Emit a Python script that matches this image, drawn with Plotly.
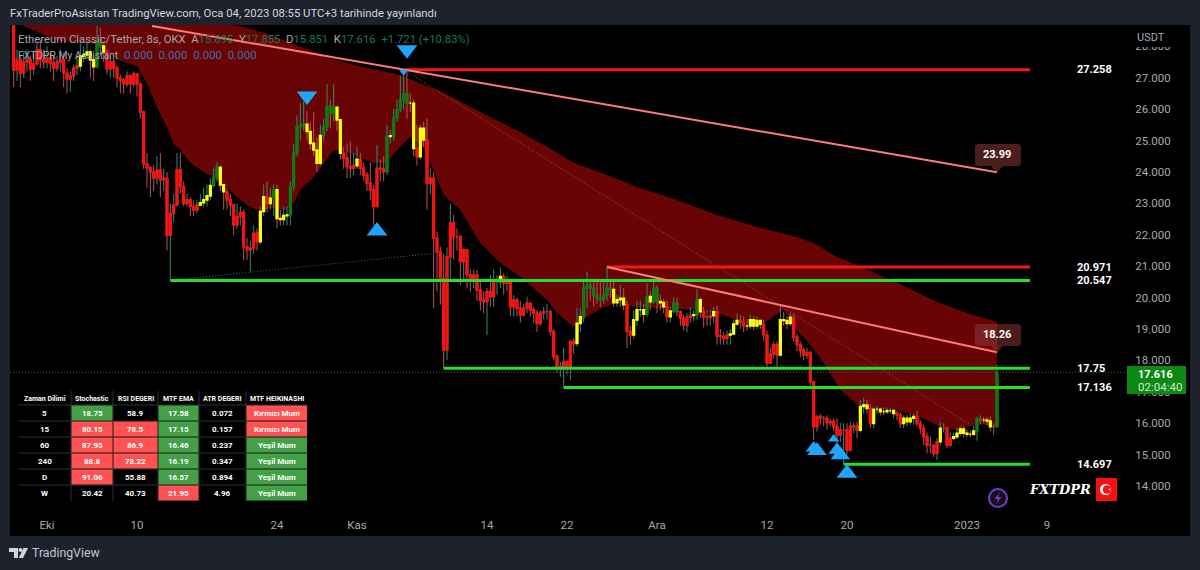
import pandas as pd
import plotly.graph_objects as go

# ---------- candles (8h bars, last bar opens 2023-01-04 00:00) ----------
first_open = 28.65
closes = [
 27.25,27.57,27.15,27.50,27.57,27.28,27.44,27.89,27.57,27.50,
 27.63,27.47,27.31,27.50,27.57,27.15,26.96,27.06,27.31,27.38,
 27.69,27.73,27.82,27.57,27.35,28.14,28.01,27.82,27.28,27.50,
 27.31,27.00,26.93,26.80,27.06,26.80,27.12,26.80,25.91,24.26,
 24.13,24.00,23.81,24.06,23.75,23.80,21.99,22.68,22.95,24.07,
 23.53,23.00,23.11,22.90,22.79,22.95,23.02,23.11,23.24,23.57,
 23.83,24.15,23.59,23.37,23.11,22.95,22.31,22.58,22.71,21.62,
 21.52,21.57,22.05,21.78,22.74,23.21,23.00,23.16,23.43,22.52,
 22.49,22.61,22.63,23.53,24.60,25.44,25.50,25.52,25.29,24.91,
 24.70,24.28,25.16,25.44,26.08,25.87,26.06,25.66,24.60,24.44,
 24.17,24.12,24.20,24.40,24.12,23.90,23.64,23.43,22.90,24.12,
 24.10,24.01,25.13,25.15,25.71,25.98,26.29,26.49,26.19,26.19,
 24.75,24.49,25.39,25.02,23.64,23.80,21.89,21.46,20.61,18.33,
 21.30,22.37,21.94,21.94,21.15,21.52,20.72,20.61,20.72,20.24,
 19.92,19.87,20.19,20.03,20.51,20.51,20.67,20.46,20.51,19.71,
 19.92,19.66,19.45,19.66,19.82,19.61,19.50,19.18,19.50,19.55,
 19.55,18.92,18.12,17.75,17.80,17.96,17.75,18.60,18.54,19.18,
 19.39,20.30,20.40,20.30,20.08,19.98,19.93,20.08,20.30,20.26,
 19.84,19.93,19.98,19.77,18.92,18.81,19.29,19.61,19.61,19.47,
 20.03,19.87,20.30,19.87,19.84,19.71,19.39,19.57,19.82,19.55,
 19.34,19.13,19.37,19.43,19.45,19.93,19.55,19.39,19.37,19.42,
 19.55,18.78,18.76,18.70,18.81,18.84,19.16,19.27,19.23,19.10,
 19.10,19.29,19.10,19.27,19.15,18.81,17.91,18.20,18.50,18.17,
 19.29,19.27,19.18,19.37,18.74,18.50,18.33,18.17,18.25,17.32,
 15.89,16.21,16.16,16.16,16.02,16.05,15.89,15.62,15.78,15.78,
 15.15,15.89,15.91,15.78,16.53,16.58,16.47,15.99,16.44,16.44,
 16.37,16.37,16.40,16.40,16.31,16.26,15.99,16.16,16.05,16.16,
 16.21,15.99,15.84,15.57,15.30,15.30,15.04,15.41,15.84,15.84,
 15.30,15.52,15.57,15.68,15.81,15.68,15.65,15.65,15.75,16.15,
 16.10,16.10,16.07,15.89,15.895,17.616,
]
highs = [
 28.80,27.90,27.70,27.80,27.90,27.70,27.80,28.10,28.20,27.90,
 28.00,27.80,27.70,27.70,27.90,27.80,27.30,27.20,27.40,27.70,
 28.10,28.00,28.10,27.90,27.70,28.65,28.60,28.10,27.90,27.70,
 27.60,27.40,27.10,27.00,27.20,27.10,27.20,27.15,26.85,25.95,
 24.60,24.20,24.20,24.50,24.60,24.10,24.00,23.00,23.30,24.60,
 24.60,23.70,23.30,23.20,23.10,23.10,23.30,23.50,23.60,23.80,
 24.10,24.30,24.20,23.60,23.50,23.30,23.00,23.00,22.90,22.80,
 21.90,21.80,22.30,22.20,22.90,23.60,23.70,23.50,23.60,23.60,
 22.80,22.90,22.90,23.70,24.90,25.80,26.20,26.25,25.95,25.60,
 25.90,25.10,25.50,25.70,26.80,26.30,26.80,26.00,25.70,24.80,
 24.90,24.97,24.60,24.80,24.60,24.30,24.00,24.30,23.60,24.85,
 24.40,24.50,25.50,25.35,26.00,26.30,27.05,27.258,27.20,26.50,
 26.30,25.50,25.50,25.60,25.70,24.10,24.00,22.10,21.62,21.40,
 21.60,23.00,22.63,22.20,22.00,21.57,21.55,20.90,20.90,20.87,
 20.60,20.20,20.30,20.72,20.90,20.70,20.96,20.77,20.70,20.60,
 20.08,20.00,19.90,19.80,20.03,19.85,19.70,19.60,19.60,19.70,
 19.80,19.60,19.00,18.20,17.95,18.40,18.00,18.65,18.70,19.66,
 19.66,20.60,20.83,20.60,20.60,20.50,20.50,20.50,20.971,20.60,
 20.50,20.10,20.40,20.30,19.90,19.10,19.60,19.90,19.90,19.80,
 20.46,20.20,20.50,20.40,20.10,19.95,19.90,19.70,20.00,20.00,
 19.60,19.45,19.50,19.70,19.60,20.26,20.00,19.70,19.60,19.60,
 19.70,19.75,19.00,18.90,18.95,19.00,19.30,19.50,19.45,19.40,
 19.30,19.45,19.40,19.40,19.30,19.30,18.95,18.40,18.60,18.60,
 19.77,19.55,19.40,19.50,19.50,18.85,18.60,18.40,18.40,18.30,
 17.32,16.26,16.30,16.23,16.25,16.15,16.15,16.15,16.00,16.00,
 16.00,16.05,16.00,16.05,16.74,16.80,16.74,16.60,16.50,16.55,
 16.50,16.50,16.50,16.50,16.45,16.40,16.35,16.25,16.25,16.30,
 16.30,16.40,16.10,15.95,15.70,15.57,15.30,15.52,16.05,16.00,
 15.89,15.70,15.70,15.85,15.90,15.90,15.80,15.75,15.95,16.21,
 16.25,16.20,16.20,16.20,16.00,17.855,
]
lows = [
 26.70,26.90,26.70,27.00,27.20,26.90,27.10,27.40,27.30,27.30,
 27.30,27.20,26.90,27.20,27.20,26.70,26.50,26.55,26.90,27.10,
 27.20,27.50,27.60,27.00,26.90,27.30,27.70,27.50,27.10,27.00,
 27.00,26.70,26.50,26.50,26.70,26.50,26.70,26.40,25.70,24.10,
 23.50,23.20,23.40,23.60,23.20,23.40,21.50,20.547,22.40,22.90,
 23.30,22.90,22.90,22.60,22.60,22.70,22.90,22.90,22.90,23.10,
 23.50,23.70,23.40,22.80,22.80,22.60,22.00,22.20,22.30,21.20,
 21.20,20.83,21.40,21.50,21.70,22.60,22.70,22.80,22.60,22.20,
 22.30,22.30,22.30,22.30,23.40,24.50,25.00,25.30,25.00,24.70,
 24.50,24.00,24.20,25.00,25.30,25.40,25.60,25.30,24.40,24.10,
 23.80,23.80,23.90,24.10,23.90,23.70,23.40,23.10,22.30,22.90,
 23.70,23.70,23.90,24.90,25.00,25.60,25.90,26.00,25.70,25.90,
 24.50,24.20,24.40,24.80,22.80,23.30,19.66,20.20,19.77,17.75,
 18.00,20.60,21.20,21.50,20.40,20.60,20.30,20.19,20.30,19.90,
 19.60,19.50,18.80,19.70,19.71,20.10,20.30,20.10,20.20,19.40,
 19.40,19.40,19.20,19.40,19.50,19.40,19.20,18.90,19.10,19.30,
 19.30,18.80,18.00,17.59,17.48,17.136,17.55,17.38,18.20,18.44,
 18.90,19.20,19.66,19.90,19.71,19.80,19.70,19.80,19.90,20.00,
 19.70,19.70,19.70,19.60,18.39,18.50,18.70,19.10,19.40,19.20,
 19.40,19.60,19.80,19.50,19.60,19.50,19.20,19.20,19.50,19.40,
 19.10,18.95,18.90,19.20,19.25,19.30,19.35,19.05,19.10,19.10,
 19.20,18.50,18.50,18.50,18.50,18.50,18.80,19.10,19.00,18.90,
 18.95,19.00,18.95,19.00,19.00,18.60,17.80,17.90,18.05,17.80,
 18.12,19.10,19.00,19.10,18.60,18.30,18.10,18.00,18.05,17.20,
 15.47,15.73,15.95,15.90,15.80,15.90,15.75,15.30,15.40,14.697,
 15.00,15.10,15.68,15.52,15.70,16.30,16.30,15.85,15.84,16.30,
 16.25,16.25,16.30,16.30,16.15,16.10,15.85,15.84,15.90,15.95,
 15.95,15.90,15.65,15.30,15.04,15.05,14.93,14.83,15.30,15.70,
 15.20,15.25,15.45,15.50,15.60,15.55,15.55,15.55,15.60,15.44,
 15.95,16.00,15.95,15.75,15.63,15.851,
]
candle_tags = (
 "rrrrrrrrrr" "rrrrrrrrrr" "yyyyyggyrr" "rrrrrrrrrr" "rrrrrrrrrr"
 "rrrrrryyyy" "ggyyrrrrrr" "rrrryyrygy" "yyygggggyy" "yyyggggyyr"
 "rrryrrrrrr" "rrgygggggy" "yryyrrrrrr" "rrrrrrrrrr" "rrrrrryrrr"
 "rrrrrrrrrr" "rrrrrrrrry" "yggggggggg" "yyyyrryyyy" "gyggyyrygg"
 "rrrrygyrrr" "yrrrryyyrr" "yyyyyrrrrr" "yyyyrrrrrr" "rrrrrrrrrr"
 "rrrryyyryy" "yyyyyrryyy" "yrrrrrrryr" "rryyyyyyyg" "gyyyrg"
)
assert len(closes) == len(highs) == len(lows) == len(candle_tags) == 296, (len(closes), len(highs), len(lows), len(candle_tags))

dates = [d.strftime("%Y-%m-%d %H:%M") for d in pd.date_range(end="2023-01-04 00:00", periods=len(closes), freq="8h")]
opens = [first_open] + closes[:-1]

# ---------- moving-average band ----------
band_upper_idx = [3,68,76,86,96,106,116,118,129,140,152,160,168,178,187,199,211,223,235,240,247,255,265,277,286,295]
band_upper = [29.3,28.65,28.40,27.98,27.57,27.31,27.09,26.99,26.52,25.91,25.27,24.80,24.29,23.90,23.52,23.11,22.63,22.25,21.93,21.74,21.29,20.94,20.47,19.86,19.51,19.22]
band_lower_idx = [3,7,12,14,19,24,29,32,37,40,43,46,48,50,53,57,60,64,67,70,74,77,82,84,86,90,93,96,100,104,108,112,115,119,123,126,129,134,140,146,152,160,163,168,172,177,181,187,195,205,211,217,225,231,235,239,243,248,254,265,272,278,283,289,295]
band_lower = [28.65,28.46,28.24,28.17,28.14,28.08,27.76,27.54,27.38,26.80,26.07,25.43,24.89,24.70,24.29,24.00,23.84,23.52,23.20,22.95,22.73,22.86,22.79,23.01,23.43,23.84,24.29,24.70,24.64,24.45,24.29,24.29,24.70,25.12,24.77,24.06,23.27,22.79,21.74,21.10,20.66,19.92,19.51,19.07,19.39,19.70,19.83,19.70,19.67,19.61,19.51,19.29,19.19,19.61,18.97,18.49,17.92,17.06,16.52,16.42,16.20,15.88,15.78,16.00,15.88]

# ---------- drawn levels and trend lines ----------
level_values = [27.258, 20.971, 20.547, 17.75, 17.136, 14.697]
level_labels = ["27.258", "20.971", "20.547", "17.75", "17.136", "14.697"]
level_start_idx = [117, 178, 47, 129, 165, 249]
level_colors = ["#f21818", "#f21818", "#25e025", "#25e025", "#25e025", "#25e025"]
level_end = "2023-01-07 07:00"

trend_dates = [["2022-10-11 12:00", "2023-01-04 00:00"], ["2022-11-26 00:00", "2023-01-04 00:00"]]
trend_values = [[28.65, 23.99], [20.971, 18.26]]
dotted_red_dates = ["2022-11-05 16:00", "2023-01-01 16:00"]
dotted_red_values = [27.258, 15.88]
dotted_teal_dates = ["2022-10-13 08:00", "2022-11-09 00:00"]
dotted_teal_values = [20.547, 21.42]
last_price = 17.616

# ---------- signal markers ----------
down_dates = ["2022-11-06 00:00", "2022-10-27 00:00", "2022-11-05 16:00"]
down_values = [27.89, 26.42, 27.19]
down_sizes = [18, 18, 8]
up_dates = ["2022-11-03 00:00", "2022-12-16 16:00", "2022-12-17 00:00", "2022-12-18 16:00", "2022-12-19 00:00", "2022-12-19 08:00", "2022-12-20 00:00"]
up_values = [22.12, 15.21, 15.12, 15.50, 15.15, 14.99, 14.41]
up_sizes = [18, 14, 17, 10, 15, 17, 18]

# ---------- axes ----------
x_tick_dates = ["2022-10-01", "2022-10-10", "2022-10-24", "2022-11-01", "2022-11-14", "2022-11-22", "2022-12-01", "2022-12-12", "2022-12-20", "2023-01-01", "2023-01-09"]
x_tick_text = ["Eki", "10", "24", "Kas", "14", "22", "Ara", "12", "20", "2023", "9"]
y_ticks = list(range(14, 29))

# ---------- table ----------
table_head = ["Zaman Dilimi", "Stochastic", "RSI DEGERI", "MTF EMA", "ATR DEGERI", "MTF HEIKINASHI"]
tf_col = ["5", "15", "60", "240", "D", "W"]
stoch_col = ["18.75", "80.15", "87.95", "88.8", "91.06", "20.42"]
rsi_col = ["58.9", "78.5", "86.9", "78.22", "55.88", "40.73"]
ema_col = ["17.58", "17.15", "16.46", "16.19", "16.57", "21.95"]
atr_col = ["0.072", "0.157", "0.237", "0.347", "0.894", "4.96"]
heikin_col = ["Kırmızı Mum", "Kırmızı Mum", "Yeşil Mum", "Yeşil Mum", "Yeşil Mum", "Yeşil Mum"]
K, G, R = None, "#43a047", "#ff5252"
table_fills = [[K]*6, [G, R, R, R, R, K], [K, R, R, R, K, K], [G, G, G, G, G, R], [K]*6, [R, R, G, G, G, G]]

# ---------- pixel helpers for page furniture ----------
PL, PR, PT, PB = 10, 1126, 25, 508
def fx(x): return (x - PL) / (PR - PL)
def fy(y): return (PB - y) / (PB - PT)
def rect(x0, y0, x1, y1, fill, layer="above"):
    return dict(type="rect", xref="paper", yref="paper", x0=fx(x0), x1=fx(x1), y0=fy(y1), y1=fy(y0),
                fillcolor=fill, line_width=0, layer=layer)
def poly(points, fill):
    p = "M " + " L ".join(f"{fx(a):.5f},{fy(b):.5f}" for a, b in points) + " Z"
    return dict(type="path", xref="paper", yref="paper", path=p, fillcolor=fill, layer="above", line_width=0)
def circle(cx, cy, r, fill, line=None):
    return dict(type="circle", xref="paper", yref="paper", x0=fx(cx-r), x1=fx(cx+r), y0=fy(cy+r), y1=fy(cy-r),
                fillcolor=fill, layer="above", line=dict(color=line or fill, width=2 if line else 0))
def callout(tip_x, tip_y):
    l, r, t, b, c = tip_x-22, tip_x+24, tip_y-29, tip_y-7, 3
    q = lambda a, b: f"{fx(a):.5f},{fy(b):.5f}"
    p = (f"M {q(l+c,t)} L {q(r-c,t)} Q {q(r,t)} {q(r,t+c)} L {q(r,b-c)} Q {q(r,b)} {q(r-c,b)} "
         f"L {q(tip_x+6,b)} L {q(tip_x,tip_y)} L {q(tip_x-6,b)} L {q(l+c,b)} Q {q(l,b)} {q(l,b-c)} "
         f"L {q(l,t+c)} Q {q(l,t)} {q(l+c,t)} Z")
    return dict(type="path", xref="paper", yref="paper", path=p, fillcolor="rgba(150,60,60,0.5)", line_width=0, layer="above")

fig = go.Figure()

# band on the lower axis so that candles sit on top of it
fig.add_trace(go.Scatter(x=[dates[i] for i in band_upper_idx], y=band_upper, mode="lines", line=dict(width=0, color="#690404"), hoverinfo="skip"))
fig.add_trace(go.Scatter(x=[dates[i] for i in band_lower_idx], y=band_lower, mode="lines", line=dict(width=0, color="#690404"),
                         fill="tonexty", fillcolor="#690404", hoverinfo="skip"))

# wicks
fig.add_trace(go.Candlestick(x=dates, open=opens, high=highs, low=lows, close=closes, yaxis="y2", whiskerwidth=0,
                             increasing=dict(line=dict(color="#2f8a7e", width=1), fillcolor="rgba(0,0,0,0)"),
                             decreasing=dict(line=dict(color="#b8525a", width=1), fillcolor="rgba(0,0,0,0)")))
# bodies, one trace per indicator colour
tag_colors = {"r": "#f41414", "g": "#0f7a10", "y": "#ffff14"}
for tag, col in tag_colors.items():
    ids = [i for i, t in enumerate(candle_tags) if t == tag]
    o = [opens[i] for i in ids]
    c = [closes[i] for i in ids]
    side = dict(line=dict(color=col, width=1.6), fillcolor=col)
    fig.add_trace(go.Candlestick(x=[dates[i] for i in ids], open=o, close=c,
                                 high=[max(a, b) for a, b in zip(o, c)], low=[min(a, b) for a, b in zip(o, c)],
                                 yaxis="y2", whiskerwidth=0, increasing=side, decreasing=side))

# dotted lines
fig.add_trace(go.Scatter(x=dotted_red_dates, y=dotted_red_values, mode="lines", yaxis="y2", line=dict(color="#a05a5a", width=1, dash="1px,2px")))
fig.add_trace(go.Scatter(x=dotted_teal_dates, y=dotted_teal_values, mode="lines", yaxis="y2", line=dict(color="#2a6d78", width=1, dash="1px,2px")))
fig.add_trace(go.Scatter(x=["2022-09-27 07:12", "2023-01-16 21:36"], y=[last_price, last_price], mode="lines", yaxis="y2", line=dict(color="#246b24", width=1, dash="1px,2px")))

# levels
for v, idx, col in zip(level_values, level_start_idx, level_colors):
    fig.add_trace(go.Scatter(x=[dates[idx], level_end], y=[v, v], mode="lines", yaxis="y2", line=dict(color=col, width=3)))
# trend lines
for td, tv in zip(trend_dates, trend_values):
    fig.add_trace(go.Scatter(x=td, y=tv, mode="lines", yaxis="y2", line=dict(color="#ff7a7a", width=2)))
# markers
fig.add_trace(go.Scatter(x=down_dates, y=down_values, mode="markers", yaxis="y2", marker=dict(symbol="triangle-down", size=down_sizes, color="#1ea6ff", opacity=1, line=dict(width=0))))
fig.add_trace(go.Scatter(x=up_dates, y=up_values, mode="markers", yaxis="y2", marker=dict(symbol="triangle-up", size=up_sizes, color="#1ea6ff", opacity=1, line=dict(width=0))))

GREY = "#a6a9b1"
VAL = "#137a5f"
def txt(x, y, text, size=12, color="#ffffff", anchor="left", family="Roboto"):
    return dict(xref="paper", yref="paper", x=fx(x), y=fy(y), text=text, showarrow=False, xanchor=anchor, yanchor="middle",
                font=dict(family=family, size=size, color=color))

annotations = [
    txt(8, 14, "FxTraderProAsistan TradingView.com, Oca 04, 2023 08:55 UTC+3 tarihinde yayınlandı", 11.3, "#d6d8de"),
    txt(16, 39, f"Ethereum Classic/Tether, 8s, OKX  A<span style='color:{VAL}'>15.895</span>  Y<span style='color:{VAL}'>17.855</span>  D<span style='color:{VAL}'>15.851</span>  K<span style='color:{VAL}'>17.616</span>  <span style='color:{VAL}'>+1.721 (+10.83%)</span>", 11.3, GREY),
    txt(16, 55, "FXTDPR My Assistant", 10.3, GREY),
    txt(122, 55, "0.000  0.000  0.000  0.000", 11.5, "#3f6fae"),
    txt(1135, 38, "USDT", 11, GREY),
    txt(30, 553, "TradingView", 12.3, "#c3c6ce"),
    txt(997, 154.5, "<b>23.99</b>", 11, "#ffffff", "center"),
    txt(997, 334.5, "<b>18.26</b>", 11, "#ffffff", "center"),
    txt(1136, 374, "<b>17.616</b>", 11, "#ffffff"),
    txt(1136, 387, "02:04:40", 11.5, "#d5e8d5"),
    txt(1060, 489, "<b><i>FXTDPR</i></b>", 13, "#ffffff", "center", "DejaVu Serif"),
]
for v, lab in zip(level_values, level_labels):
    annotations.append(dict(xref="paper", yref="y", x=fx(1075), y=v, text=f"<b>{lab}</b>", showarrow=False, xanchor="left", yanchor="middle",
                            font=dict(family="Roboto", size=11, color="#ffffff")))

shapes = [
    rect(10, 25, 1190, 536, "#000000", "below"),
    rect(1130, 26, 1186, 47, "#000000"),
    rect(1127, 366, 1186, 394, "#0a8a10"),
    callout(997, 173),
    callout(997, 353),
    # TradingView logo
    poly([(9, 548), (18, 548), (18, 558), (14, 558), (14, 552), (9, 552)], "#d1d4dc"),
    circle(20.5, 550, 2, "#d1d4dc"),
    poly([(23.5, 548), (28, 548), (23, 558), (18.8, 558)], "#d1d4dc"),
    # flag
    rect(1096, 478, 1117, 501, "#f80f0f"),
    circle(1105.5, 489.5, 5.5, "#ffffff"),
    circle(1107, 489.5, 4.3, "#f80f0f"),
    poly([(1108, 489.5), (1112, 487.8), (1110, 489.5), (1112, 491.2)], "#ffffff"),
    # lightning badge
    circle(998, 498, 9, "#15101f", "#7a3fc0"),
    poly([(1000, 492), (994.5, 499), (998, 499), (996, 504), (1001.5, 497), (998, 497)], "#7a3fc0"),
]

# table grid: plotly's table trace forces taller rows, so it is built from cells and text
col_edges = [18.5, 71, 113, 158, 199, 246, 307.5]
row_edges = [391, 405, 421, 437, 453, 469, 485, 501]
GRID = "#2d313c"
for r in row_edges[1:-1]:
    shapes.append(rect(col_edges[0], r - 0.5, col_edges[-1], r + 0.5, GRID))
for c_edge in col_edges[1:-1]:
    shapes.append(rect(c_edge - 0.5, row_edges[0], c_edge + 0.5, row_edges[-1], GRID))
table_cols = [tf_col, stoch_col, rsi_col, ema_col, atr_col, heikin_col]
for ci, (head, col_vals, fills) in enumerate(zip(table_head, table_cols, table_fills)):
    xl, xr = col_edges[ci], col_edges[ci + 1]
    xc = (xl + xr) / 2
    annotations.append(txt(xc, (row_edges[0] + row_edges[1]) / 2 + 0.5, f"<b>{head}</b>", 7, "#ffffff", "center"))
    for ri, (val, fill) in enumerate(zip(col_vals, fills)):
        yt, yb = row_edges[ri + 1], row_edges[ri + 2]
        if fill:
            shapes.append(rect(xl + 0.5, yt + 0.5, xr - 0.5, yb - 0.5, fill))
        annotations.append(txt(xc, (yt + yb) / 2 + 0.5, f"<b>{val}</b>", 8, "#ffffff", "center"))

y_range = [13.30, 28.68]
fig.update_layout(
    width=1200, height=570, autosize=False, showlegend=False,
    margin=dict(l=PL, r=1200-PR, t=PT, b=570-PB, pad=0),
    paper_bgcolor="#1e222d", plot_bgcolor="rgba(0,0,0,0)",
    font=dict(family="Roboto", size=12, color=GREY),
    xaxis=dict(range=["2022-09-27 07:12", "2023-01-16 21:36"], type="date", rangeslider=dict(visible=False),
               showgrid=False, zeroline=False, showline=False, tickmode="array", tickvals=x_tick_dates, ticktext=x_tick_text,
               ticks="outside", ticklen=6, tickcolor="rgba(0,0,0,0)", tickfont=dict(family="Roboto", size=11.5, color=GREY)),
    yaxis=dict(range=y_range, side="right", showgrid=False, zeroline=False, showline=False, tickmode="array", tickvals=y_ticks,
               tickformat=".3f", ticks="outside", ticklen=6, tickcolor="rgba(0,0,0,0)", tickfont=dict(family="Roboto", size=11.5, color=GREY)),
    yaxis2=dict(range=y_range, overlaying="y", side="right", visible=False),
    annotations=annotations, shapes=shapes, hovermode=False,
)

fig.write_html("out.html", config=dict(displayModeBar=False), post_script="document.body.style.margin='0';")
